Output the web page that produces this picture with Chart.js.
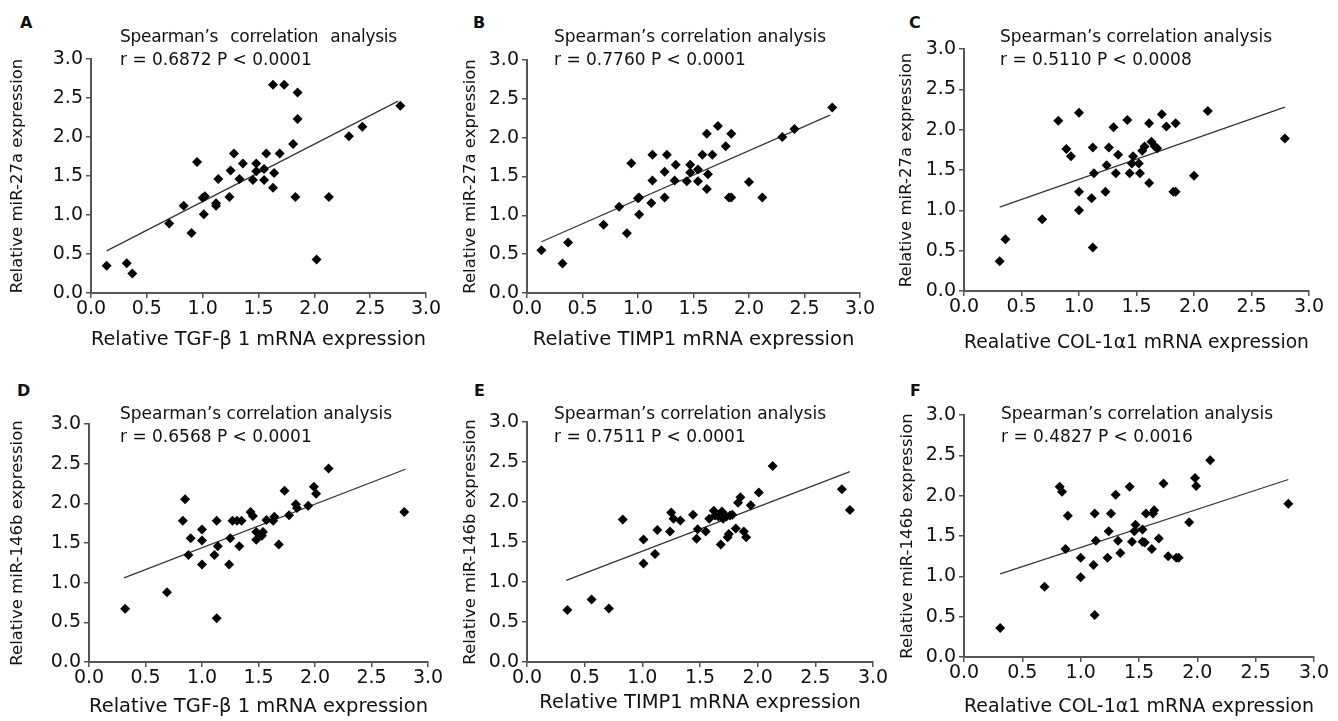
<!DOCTYPE html>
<html>
<head>
<meta charset="utf-8">
<script src="https://cdn.jsdelivr.net/npm/chart.js@4.4.1/dist/chart.umd.min.js"></script>
<style>
  body { margin: 0; background: #fff; width: 1338px; height: 721px; position: relative; overflow: hidden;
         font-family: "DejaVu Sans", sans-serif; color: #111; }
  .wrap { position: absolute; }
  .letter { position: absolute; font-weight: bold; font-size: 16px; line-height: 16px; }
  .note { position: absolute; font-size: 17px; line-height: 23px; white-space: pre; }
</style>
</head>
<body>

<div class="wrap" id="wA"><canvas id="cA"></canvas></div>
<div class="wrap" id="wB"><canvas id="cB"></canvas></div>
<div class="wrap" id="wC"><canvas id="cC"></canvas></div>
<div class="wrap" id="wD"><canvas id="cD"></canvas></div>
<div class="wrap" id="wE"><canvas id="cE"></canvas></div>
<div class="wrap" id="wF"><canvas id="cF"></canvas></div>

<div class="letter" style="left:20px;top:15px">A</div>
<div class="letter" style="left:473px;top:15px">B</div>
<div class="letter" style="left:909px;top:15px">C</div>
<div class="letter" style="left:17px;top:383px">D</div>
<div class="letter" style="left:474px;top:383px">E</div>
<div class="letter" style="left:910px;top:383px">F</div>

<div class="note" style="left:120px;top:25px"><span style="word-spacing:7px;letter-spacing:-0.3px">Spearman’s correlation analysis</span>
r = 0.6872 P &lt; 0.0001</div>
<div class="note" style="left:554px;top:25px">Spearman’s correlation analysis
r = 0.7760 P &lt; 0.0001</div>
<div class="note" style="left:1000px;top:25px">Spearman’s correlation analysis
r = 0.5110 P &lt; 0.0008</div>
<div class="note" style="left:120px;top:402px">Spearman’s correlation analysis
r = 0.6568 P &lt; 0.0001</div>
<div class="note" style="left:554px;top:402px">Spearman’s correlation analysis
r = 0.7511 P &lt; 0.0001</div>
<div class="note" style="left:1001px;top:402px">Spearman’s correlation analysis
r = 0.4827 P &lt; 0.0016</div>

<script>
// tick labels shared by every axis
const tickLabels = ["0.0", "0.5", "1.0", "1.5", "2.0", "2.5", "3.0"];

// A: TGF-b1 vs miR-27a
const tgfA = [0.14, 0.32, 0.37, 0.70, 0.83, 0.90, 0.95, 1.00, 1.02, 1.01, 1.12, 1.12, 1.14, 1.24, 1.25, 1.28, 1.33, 1.36,
  1.45, 1.48, 1.48, 1.55, 1.55, 1.57, 1.63, 1.64, 1.63, 1.69, 1.73, 1.81, 1.83, 1.85, 1.85, 2.02, 2.13, 2.31, 2.43, 2.77];
const mir27A = [0.35, 0.38, 0.25, 0.89, 1.12, 0.77, 1.68, 1.22, 1.24, 1.01, 1.15, 1.12, 1.46, 1.23, 1.57, 1.79, 1.46, 1.66,
  1.45, 1.66, 1.56, 1.59, 1.45, 1.79, 2.67, 1.54, 1.35, 1.79, 2.67, 1.91, 1.23, 2.23, 2.57, 0.43, 1.23, 2.01, 2.13, 2.40];
const fitAX = [0.14, 2.75];
const fitAY = [0.54, 2.46];

// B: TIMP1 vs miR-27a
const timpB = [0.13, 0.32, 0.37, 0.69, 0.83, 0.90, 0.94, 1.00, 1.01, 1.01, 1.12, 1.13, 1.13, 1.24, 1.24, 1.26, 1.34, 1.33,
  1.44, 1.47, 1.47, 1.54, 1.54, 1.58, 1.62, 1.63, 1.62, 1.67, 1.72, 1.79, 1.82, 1.84, 1.84, 2.00, 2.12, 2.30, 2.41, 2.75];
const mir27B = [0.55, 0.38, 0.65, 0.88, 1.11, 0.77, 1.67, 1.22, 1.01, 1.23, 1.16, 1.78, 1.45, 1.23, 1.56, 1.78, 1.65, 1.45,
  1.44, 1.65, 1.55, 1.59, 1.44, 1.78, 2.05, 1.53, 1.34, 1.78, 2.15, 1.89, 1.23, 1.23, 2.05, 1.43, 1.23, 2.01, 2.11, 2.39];
const fitBX = [0.13, 2.73];
const fitBY = [0.66, 2.29];

// C: COL-1a1 vs miR-27a
const colC = [0.31, 0.36, 0.68, 0.82, 0.89, 0.93, 1.00, 1.00, 1.00, 1.11, 1.12, 1.13, 1.12, 1.23, 1.24, 1.26, 1.30, 1.32,
  1.34, 1.42, 1.44, 1.46, 1.47, 1.52, 1.53, 1.55, 1.57, 1.61, 1.61, 1.63, 1.66, 1.68, 1.72, 1.76, 1.82, 1.84, 1.84, 2.00,
  2.12, 2.79];
const mir27C = [0.37, 0.64, 0.89, 2.11, 1.76, 1.67, 2.21, 1.23, 1.00, 1.15, 1.78, 1.46, 0.54, 1.23, 1.56, 1.78, 2.03, 1.46,
  1.69, 2.12, 1.46, 1.58, 1.67, 1.58, 1.46, 1.74, 1.79, 1.34, 2.08, 1.85, 1.79, 1.77, 2.19, 2.04, 1.23, 1.23, 2.08, 1.43,
  2.23, 1.89];
const fitCX = [0.31, 2.79];
const fitCY = [1.04, 2.28];

// D: TGF-b1 vs miR-146b
const tgfD = [0.32, 0.69, 0.83, 0.85, 0.88, 0.90, 1.00, 1.00, 1.00, 1.11, 1.13, 1.14, 1.13, 1.24, 1.25, 1.27, 1.31, 1.33,
  1.35, 1.43, 1.45, 1.48, 1.48, 1.54, 1.53, 1.57, 1.63, 1.64, 1.68, 1.73, 1.77, 1.83, 1.84, 1.94, 1.99, 2.01, 2.12, 2.79];
const mir146D = [0.67, 0.88, 1.78, 2.05, 1.35, 1.56, 1.67, 1.53, 1.23, 1.35, 1.78, 1.46, 0.55, 1.23, 1.56, 1.78, 1.78, 1.46,
  1.78, 1.89, 1.84, 1.54, 1.64, 1.64, 1.59, 1.79, 1.78, 1.83, 1.48, 2.16, 1.85, 1.99, 1.94, 1.97, 2.21, 2.12, 2.44, 1.89];
const fitDX = [0.31, 2.80];
const fitDY = [1.06, 2.43];

// E: TIMP1 vs miR-146b
const timpE = [0.35, 0.56, 0.71, 0.83, 1.01, 1.01, 1.11, 1.13, 1.24, 1.25, 1.27, 1.33, 1.44, 1.47, 1.48, 1.55, 1.58, 1.62,
  1.63, 1.66, 1.68, 1.69, 1.70, 1.73, 1.74, 1.75, 1.76, 1.78, 1.81, 1.83, 1.85, 1.88, 1.90, 1.94, 2.01, 2.13, 2.73, 2.80];
const mir146E = [0.65, 0.78, 0.67, 1.78, 1.53, 1.23, 1.35, 1.65, 1.63, 1.87, 1.79, 1.77, 1.84, 1.54, 1.66, 1.63, 1.79, 1.89,
  1.83, 1.82, 1.47, 1.88, 1.79, 1.82, 1.56, 1.60, 1.83, 1.84, 1.67, 1.99, 2.06, 1.63, 1.56, 1.96, 2.12, 2.45, 2.16, 1.90];
const fitEX = [0.34, 2.80];
const fitEY = [1.02, 2.38];

// F: COL-1a1 vs miR-146b
const colF = [0.31, 0.69, 0.82, 0.84, 0.87, 0.89, 1.00, 1.00, 1.11, 1.12, 1.13, 1.12, 1.23, 1.24, 1.26, 1.30, 1.32, 1.34,
  1.42, 1.44, 1.46, 1.47, 1.53, 1.53, 1.55, 1.56, 1.61, 1.62, 1.63, 1.67, 1.71, 1.75, 1.82, 1.84, 1.93, 1.98, 1.99, 2.11,
  2.78];
const mir146F = [0.36, 0.87, 2.11, 2.05, 1.34, 1.75, 1.23, 0.99, 1.14, 1.78, 1.44, 0.52, 1.23, 1.56, 1.78, 2.01, 1.44, 1.29,
  2.11, 1.43, 1.56, 1.64, 1.58, 1.43, 1.42, 1.78, 1.34, 1.78, 1.82, 1.47, 2.15, 1.25, 1.23, 1.23, 1.67, 2.22, 2.12, 2.44,
  1.90];
const fitFX = [0.31, 2.78];
const fitFY = [1.03, 2.20];

const xTitleTGF = "Relative TGF-\u03b2 1 mRNA expression";
const xTitleTIMP = "Relative TIMP1 mRNA expression";
const xTitleCOL = "Realative COL-1\u03b11 mRNA expression";
const yTitle27 = "Relative miR-27a expression";
const yTitle146 = "Relative miR-146b expression";

const FONT = '"DejaVu Sans", sans-serif';
const AXIS = "#555";

// axis box in page pixels: x0/x1 = value 0/3 on x, y0/y1 = value 3/0 on y
function makeChart(id, xs, ys, fx, fy, box, xTitle, yTitle) {
  const left = box.ty - 12;
  const top = box.y0 - 16;
  const right = box.x1 + 22;
  const bottom = box.tx + 12;
  const yw = box.x0 - left;
  const xh = bottom - box.y1;

  const wrap = document.getElementById("w" + id);
  wrap.style.left = left + "px";
  wrap.style.top = top + "px";
  const canvas = document.getElementById("c" + id);
  canvas.width = right - left;
  canvas.height = bottom - top;

  const points = xs.map((x, i) => ({ x: x, y: ys[i] }));
  const fit = fx.map((x, i) => ({ x: x, y: fy[i] }));

  const tickFont = { family: FONT, size: 19 };

  return new Chart(canvas, {
    type: "scatter",
    data: {
      datasets: [
        {
          data: points,
          pointStyle: "rectRot",
          pointRadius: 5,
          backgroundColor: "#000",
          borderWidth: 0,
        },
        {
          data: fit,
          showLine: true,
          pointRadius: 0,
          borderColor: "#333",
          borderWidth: 1.2,
        },
      ],
    },
    options: {
      responsive: false,
      animation: false,
      events: [],
      layout: { padding: { left: 0, top: 16, right: 22, bottom: 0 } },
      plugins: { legend: { display: false }, tooltip: { enabled: false } },
      scales: {
        x: {
          type: "linear",
          min: 0,
          max: 3,
          afterFit: (s) => { s.height = xh; },
          afterBuildTicks: (s) => { s.ticks = tickLabels.map((t) => ({ value: parseFloat(t) })); },
          ticks: {
            autoSkip: false,
            maxRotation: 0,
            padding: 0,
            color: "#111",
            font: tickFont,
            callback: (v) => tickLabels[Math.round(v * 2)],
          },
          grid: { drawOnChartArea: false, tickLength: 5, color: AXIS, lineWidth: 1.5 },
          border: { color: AXIS, width: 2 },
          title: { display: true, text: xTitle, color: "#111", font: { family: FONT, size: 19.5 }, padding: { top: 0, bottom: 0 } },
        },
        y: {
          type: "linear",
          min: 0,
          max: 3,
          afterFit: (s) => { s.width = yw; },
          afterBuildTicks: (s) => { s.ticks = tickLabels.map((t) => ({ value: parseFloat(t) })); },
          ticks: {
            autoSkip: false,
            padding: 3,
            color: "#111",
            font: tickFont,
            callback: (v) => tickLabels[Math.round(v * 2)],
          },
          grid: { drawOnChartArea: false, tickLength: 5, color: AXIS, lineWidth: 1.5 },
          border: { color: AXIS, width: 2 },
          title: { display: true, text: yTitle, color: "#111", font: { family: FONT, size: 16.5 }, padding: { top: 2, bottom: 0 } },
        },
      },
    },
  });
}

// ty = centre x of the y title, tx = centre y of the x title
makeChart("A", tgfA, mir27A, fitAX, fitAY, { x0: 91, x1: 426, y0: 59, y1: 293, ty: 18, tx: 340 }, xTitleTGF, yTitle27);
makeChart("B", timpB, mir27B, fitBX, fitBY, { x0: 527, x1: 860, y0: 60, y1: 293, ty: 471, tx: 340 }, xTitleTIMP, yTitle27);
makeChart("C", colC, mir27C, fitCX, fitCY, { x0: 964, x1: 1309, y0: 49, y1: 291, ty: 907, tx: 343 }, xTitleCOL, yTitle27);
makeChart("D", tgfD, mir146D, fitDX, fitDY, { x0: 89, x1: 428, y0: 424, y1: 662, ty: 18, tx: 707 }, xTitleTGF, yTitle146);
makeChart("E", timpE, mir146E, fitEX, fitEY, { x0: 527, x1: 873, y0: 422, y1: 662, ty: 471, tx: 703 }, xTitleTIMP, yTitle146);
makeChart("F", colF, mir146F, fitFX, fitFY, { x0: 964, x1: 1314, y0: 415, y1: 657, ty: 908, tx: 707 }, xTitleCOL, yTitle146);
</script>
</body>
</html>
